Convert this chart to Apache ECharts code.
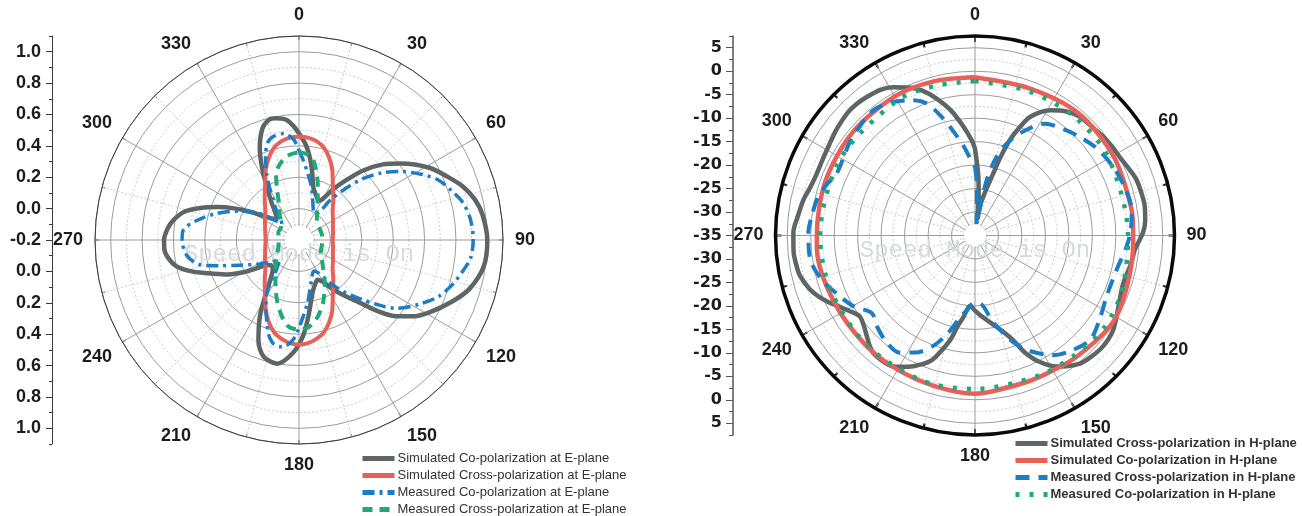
<!DOCTYPE html>
<html>
<head>
<meta charset="utf-8">
<script src="https://cdn.jsdelivr.net/npm/echarts@6/dist/echarts.min.js"></script>
<style>
  html, body { margin: 0; padding: 0; background: #ffffff; }
  #chart { width: 1302px; height: 516px; }
</style>
</head>
<body>
<div id="chart"></div>
<script>
// ---------- E-plane (left polar, radius in normalized units) ----------
const ePlaneNames = [
  'Simulated Co-polarization at E-plane',
  'Simulated Cross-polarization at E-plane',
  'Measured Co-polarization at E-plane',
  'Measured Cross-polarization at E-plane'
];
const eCoSimAng = [0,4,7.5,11,15,20,24,28,31,34,38,42.6,48,53,61,67,72,77,82,90,98,106,112,119,124,128,132,135,140,145,150,155,160,165,169,173,177.5,183,190,197,202,207,211,216,222,228,232,236,240,245,250,254,258,262,266,270,275,279,284,288,292,296,300,305,310,315,320,324,329,333,337,342,346,349,354,357,360];
const eCoSimVal = [0.48,0.41,0.33,0.24,0.15,0.11,0.09,0.085,0.12,0.19,0.28,0.40,0.52,0.61,0.75,0.83,0.90,0.95,0.98,1.0,0.99,0.93,0.85,0.75,0.67,0.59,0.48,0.38,0.27,0.19,0.11,0.08,0.10,0.14,0.20,0.29,0.41,0.52,0.60,0.575,0.49,0.35,0.22,0.11,0.05,0.04,0.06,0.12,0.21,0.32,0.42,0.52,0.60,0.64,0.66,0.66,0.64,0.61,0.55,0.46,0.36,0.26,0.16,0.06,0.01,0.0,0.04,0.10,0.20,0.32,0.44,0.55,0.59,0.59,0.57,0.53,0.48];

const eCrossSimAng = [0,5,10,15,20,25,30,35,40,50,60,70,80,90,100,110,120,130,140,145,150,155,160,165,170,175,180,185,190,195,200,205,210,215,220,230,240,250,260,270,280,290,300,310,320,325,330,335,340,345,350,355,360];
const eCrossSimVal = [0.46,0.455,0.44,0.41,0.36,0.30,0.23,0.18,0.14,0.08,0.05,0.03,0.02,0.015,0.02,0.03,0.05,0.08,0.14,0.18,0.23,0.30,0.36,0.41,0.44,0.46,0.467,0.46,0.44,0.41,0.36,0.30,0.23,0.18,0.14,0.08,0.05,0.03,0.018,0.013,0.018,0.03,0.05,0.08,0.14,0.18,0.23,0.30,0.36,0.41,0.44,0.455,0.46];

const eCoMeasAng = [0,3,8,13,18,23,28,33,38,42,46,51,56,62,67,72,77,83,90,96,101,106,112,118,125,129,133,137,141,144,149,154,158,163,168,172,177,180,183,187,190,194,198,201,206,211,214,217,224,232,240,247,252,256,262,270,275,281,288,296,304,308,313,318,322,327,331,334,338,342,346,352,357,360];
const eCoMeasVal = [0.37,0.31,0.22,0.15,0.08,0.03,0.0,0.0,0.12,0.24,0.36,0.48,0.58,0.69,0.77,0.82,0.87,0.90,0.91,0.90,0.86,0.82,0.76,0.67,0.56,0.46,0.36,0.28,0.20,0.14,0.05,0.02,0.03,0.07,0.13,0.20,0.29,0.36,0.43,0.48,0.49,0.48,0.43,0.37,0.28,0.20,0.12,0.04,-0.02,0.03,0.11,0.21,0.33,0.45,0.52,0.545,0.54,0.46,0.35,0.22,0.10,0.02,-0.05,-0.03,0.03,0.10,0.19,0.27,0.37,0.45,0.48,0.485,0.44,0.37];

const eCrossMeasAng = [0,5,10,16,20,25,30,35,45,60,75,90,105,120,130,140,149,155,160,168,174,180,186,190,195,200,205,210,219,233,250,270,290,305,315,322,330,336,341,346,350,355,360];
const eCrossMeasVal = [0.36,0.35,0.32,0.22,0.15,0.08,0.03,0.0,-0.04,-0.05,-0.05,-0.05,-0.05,-0.04,-0.01,0.04,0.12,0.18,0.24,0.32,0.36,0.37,0.36,0.33,0.27,0.21,0.15,0.10,0.04,-0.02,-0.06,-0.07,-0.06,-0.06,-0.04,0.0,0.05,0.14,0.25,0.30,0.33,0.35,0.36];

// ---------- H-plane (right polar, radius in dB) ----------
const hPlaneNames = [
  'Simulated Cross-polarization in H-plane',
  'Simulated Co-polarization in H-plane',
  'Measured Cross-polarization in H-plane',
  'Measured Co-polarization in H-plane'
];
const hCrossSimAng = [0,3,5,7,8.5,10,12,14,16.4,18,20,22.5,25,31,36,41,47,52,57,62,67,71,76,80,85,89,95,100,108,113,118,124,128,132,137,141,145,148,153,157,160,163,167,172,176,180,184,188,191,193,196,199,203,207,212,216,221,224,227,231,235,239,242,245,248,252,257,261,265,271,276,282,286,291,297,302,308,314,318,322,327,331,336,340,344,349,354,358,360];
const hCrossSimVal = [-16.5,-22,-26,-30,-31.5,-28,-26.5,-24.5,-21.2,-17.5,-13.4,-10,-7.1,-3.9,-2.3,-1.3,-1.0,-0.55,-0.2,0.1,0.8,1.4,1.6,1.7,1.4,0.8,-0.8,-1.2,-1.8,-1.4,-0.6,0.6,1.0,1.06,0.7,0.2,-1.0,-2.1,-4.8,-8.0,-11.3,-13.3,-15.1,-16.8,-17.9,-19.0,-20.0,-17.5,-15.2,-12.5,-9.7,-7.0,-5.1,-3.6,-2.1,-1.8,-1.9,-2.6,-3.5,-4.5,-5.0,-3.8,-2.5,-1.0,0.45,2.0,3.25,3.6,3.8,3.7,3.0,2.3,1.6,1.2,1.3,1.6,2.2,2.7,2.7,2.45,2.0,1.1,-0.5,-2.15,-4.5,-7.8,-11.7,-14.7,-16.5];

const hCoSimAng = [0,20,40,60,80,90,100,115,125,140,150,160,175,180,195,210,225,245,265,270,290,310,330,345,360];
const hCoSimVal = [-1.3,-1.6,-0.9,-1.0,-1.2,-1.3,-1.1,-0.5,-0.4,-1.3,-1.8,-1.9,-1.5,-1.3,-1.8,-2.0,-2.0,-1.8,-1.2,-1.3,-1.1,-0.9,-0.8,-1.0,-1.3];

const hCrossMeasAng = [0,2,4.4,7,9.5,11.9,15,19,25,32,40,47,55,64,72,81,88,94,104,115,124,132,140,147,154,160,168,176,181,186,190,196,201,207,213,220,227,233,240,247,254,262,271,277,283,289,294,300,306,312,321,328,335,340,344,348,353,357,360];
const hCrossMeasVal = [-20.4,-24,-30,-32.5,-30,-23,-18,-14.3,-10.5,-6.9,-5.5,-4.3,-3.0,-2.1,-1.5,-1.2,-1.8,-2.6,-4.0,-4.1,-3.0,-1.9,-3.0,-4.6,-7.5,-10.7,-16,-20.5,-20.6,-19,-17.4,-13,-9.7,-7,-5.3,-5.5,-6.5,-7.5,-5.0,-3.1,-1.0,0.5,0.5,0.0,-0.5,-1.6,-2.7,-2.5,-1.8,-1.3,-0.64,-1.5,-3.2,-5.1,-8.5,-12.1,-16,-19,-20.4];

const hCoMeasAng = [0,20,40,60,90,110,125,140,155,180,200,225,250,270,300,330,345,360];
const hCoMeasVal = [-2.1,-2.2,-2.0,-2.1,-2.4,-1.6,-1.2,-1.8,-2.2,-2.3,-2.1,-2.2,-2.1,-2.0,-2.0,-1.8,-2.0,-2.1];

// ---------- axis ranges ----------
const eRadMin = -0.2, eRadMax = 1.1, eRadStep = 0.2;
const hRadMin = -35, hRadMax = 7.5, hRadStep = 5;
const angleLabels = [0, 30, 60, 90, 120, 150, 180, 210, 240, 270, 300, 330];

// ---------- geometry ----------
const L = { cx: 299, cy: 240, r: 204 };
const R = { cx: 975, cy: 235.5, r: 199.5 };

const COLORS = { gray: '#5e6567', red: '#e8605a', blue: '#1a7dc6', green: '#1fa878' };
const BOLD = { fontFamily: 'Liberation Sans', fontWeight: 'bold', fontSize: 18, color: '#1c1c1c' };

function pairs(ang, val) { return ang.map((a, i) => [val[i], a]); }

function angleAxis(idx, lineColor, lineWidth, tickLen, tickW) {
  return {
    polarIndex: idx, type: 'value', min: 0, max: 360, interval: 30,
    startAngle: 90, clockwise: true, z: 0,
    axisLine: { show: true, lineStyle: { color: lineColor, width: lineWidth } },
    axisTick: { show: true, inside: true, length: tickLen, lineStyle: { color: lineColor, width: tickW } },
    minorTick: { show: true, splitNumber: 2, length: tickLen - 1, lineStyle: { color: lineColor, width: tickW } },
    axisLabel: Object.assign({ margin: 12, formatter: v => (angleLabels.indexOf(v) >= 0 ? String(v) : '') }, BOLD),
    splitLine: { show: true, lineStyle: { color: '#9c9c9c', width: 1 } },
    minorSplitLine: { show: true, lineStyle: { color: '#cbcbcb', width: 1, type: [2, 2] } }
  };
}
function radiusAxis(idx, min, max, step) {
  return {
    polarIndex: idx, type: 'value', min: min, max: max, interval: step, z: 0,
    axisLine: { show: false }, axisTick: { show: false }, axisLabel: { show: false },
    minorTick: { show: false, splitNumber: 2 },
    splitLine: { show: true, lineStyle: { color: '#9c9c9c', width: 1 } },
    minorSplitLine: { show: true, lineStyle: { color: '#cbcbcb', width: 1, type: [2, 2] } }
  };
}

// Vertical radial scale beside each polar plot: mirrored around the centre value
const eHalf = eRadMax - eRadMin;            // 1.3
const eMajorHalf = 1.2;
const hHalf = hRadMax - hRadMin;            // 42.5
const hMajorHalf = 40;
const eScale = L.r / eHalf, hScale = R.r / hHalf;

const grids = [
  { left: 52, top: L.cy - L.r, width: 1, height: 2 * L.r },
  { left: 52, top: L.cy - eMajorHalf * eScale, width: 1, height: 2 * eMajorHalf * eScale },
  { left: 733, top: R.cy - R.r, width: 1, height: 2 * R.r },
  { left: 733, top: R.cy - hMajorHalf * hScale, width: 1, height: 2 * hMajorHalf * hScale }
];
const xAxes = grids.map((g, i) => ({ gridIndex: i, type: 'value', show: false, min: 0, max: 1 }));
const yAxes = [
  { gridIndex: 0, type: 'value', min: -1.3, max: 1.3, interval: 0.1,
    axisLine: { show: true, lineStyle: { color: '#3a3a3a', width: 1 } },
    axisTick: { show: true, length: 3, lineStyle: { color: '#3a3a3a' } },
    axisLabel: { show: false }, splitLine: { show: false } },
  { gridIndex: 1, type: 'value', min: -1.2, max: 1.2, interval: 0.2,
    axisLine: { show: false },
    axisTick: { show: true, length: 6, lineStyle: { color: '#3a3a3a' } },
    axisLabel: Object.assign({ margin: 11, formatter: v => (eRadMin + Math.abs(v)).toFixed(1) }, BOLD),
    splitLine: { show: false } },
  { gridIndex: 2, type: 'value', min: -42.5, max: 42.5, interval: 2.5,
    axisLine: { show: true, lineStyle: { color: '#555555', width: 1.5 } },
    axisTick: { show: true, length: 4, lineStyle: { color: '#555555' } },
    axisLabel: { show: false }, splitLine: { show: false } },
  { gridIndex: 3, type: 'value', min: -40, max: 40, interval: 5,
    axisLine: { show: false },
    axisTick: { show: true, length: 7, lineStyle: { color: '#555555' } },
    axisLabel: { margin: 11, fontFamily: 'DejaVu Sans', fontWeight: 'bold', fontSize: 16, color: '#1c1c1c',
      formatter: v => String(Math.round(hRadMin + Math.abs(v))) },
    splitLine: { show: false } }
];

function polarLine(name, idx, ang, val, color, width, type) {
  return {
    name: name, type: 'line', coordinateSystem: 'polar', polarIndex: idx,
    data: pairs(ang, val), smooth: 0.3, symbol: 'none', z: 3,
    lineStyle: { color: color, width: width, type: type, cap: 'butt' },
    itemStyle: { color: color }
  };
}

const series = [
  polarLine(ePlaneNames[0], 0, eCoSimAng, eCoSimVal, COLORS.gray, 4.5, 'solid'),
  polarLine(ePlaneNames[1], 0, eCrossSimAng, eCrossSimVal, COLORS.red, 4, 'solid'),
  polarLine(ePlaneNames[2], 0, eCoMeasAng, eCoMeasVal, COLORS.blue, 3.5, [12, 5, 3, 5]),
  polarLine(ePlaneNames[3], 0, eCrossMeasAng, eCrossMeasVal, COLORS.green, 4, [10, 7]),
  polarLine(hPlaneNames[0], 1, hCrossSimAng, hCrossSimVal, COLORS.gray, 4.5, 'solid'),
  polarLine(hPlaneNames[1], 1, hCoSimAng, hCoSimVal, COLORS.red, 4.5, 'solid'),
  polarLine(hPlaneNames[2], 1, hCrossMeasAng, hCrossMeasVal, COLORS.blue, 4, [14, 9]),
  polarLine(hPlaneNames[3], 1, hCoMeasAng, hCoMeasVal, COLORS.green, 4.5, [4, 10])
];

function centreDisk(c, rad) {
  return { type: 'circle', z: 1, shape: { cx: c.cx, cy: c.cy, r: rad }, style: { fill: '#ffffff' }, silent: true };
}
function watermark(c) {
  return { type: 'text', z: 1, x: c.cx, y: c.cy + 15, silent: true,
    style: { text: 'Speed Mode is On', font: '24px "Liberation Mono"', fill: '#d6dadf', align: 'center', verticalAlign: 'middle' } };
}

// legend keys show only a thick line sample, no marker
const legendBase = {
  orient: 'vertical', padding: 0, itemWidth: 32, itemHeight: 12, itemGap: 4,
  itemStyle: { opacity: 0 },
  lineStyle: { width: 5 }
};

const option = {
  backgroundColor: '#ffffff',
  animation: false,
  polar: [
    { center: [L.cx, L.cy], radius: L.r },
    { center: [R.cx, R.cy], radius: R.r }
  ],
  angleAxis: [angleAxis(0, '#3a3a3a', 1, 4, 1), angleAxis(1, '#0a0a0a', 3.5, 6, 2)],
  radiusAxis: [radiusAxis(0, eRadMin, eRadMax, eRadStep), radiusAxis(1, hRadMin, hRadMax, hRadStep)],
  grid: grids,
  xAxis: xAxes,
  yAxis: yAxes,
  legend: [
    Object.assign({ data: ePlaneNames, left: 360, top: 452,
      textStyle: { fontFamily: 'Liberation Sans', fontSize: 13, color: '#333333', padding: [0, 0, 0, -2] } }, legendBase),
    Object.assign({ data: hPlaneNames, left: 1013, top: 437,
      textStyle: { fontFamily: 'Liberation Sans', fontWeight: 'bold', fontSize: 13, color: '#333333', padding: [0, 0, 0, -2] } }, legendBase)
  ],
  graphic: [
    centreDisk(L, 14), centreDisk(R, 11),
    watermark(L), watermark(R)
  ],
  series: series
};

const chart = echarts.init(document.getElementById('chart'), null, { renderer: 'canvas' });
chart.setOption(option);
</script>
</body>
</html>
